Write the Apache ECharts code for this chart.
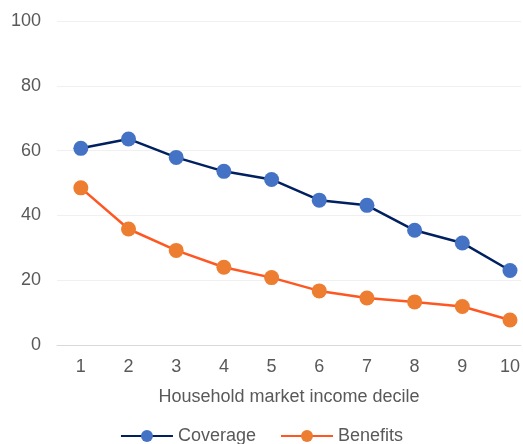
<!DOCTYPE html>
<html><head><meta charset="utf-8">
<script src="https://cdn.jsdelivr.net/npm/echarts@6/dist/echarts.min.js"></script>
<style>html,body{margin:0;padding:0;background:#fff}#c{width:523px;height:444px}</style>
</head><body><div id="c"></div>
<script>
const categories = [1, 2, 3, 4, 5, 6, 7, 8, 9, 10];
const coverage = [60.7, 63.6, 57.9, 53.6, 51.1, 44.7, 43.1, 35.4, 31.5, 23.0];
const benefits = [48.5, 35.8, 29.2, 24.0, 20.8, 16.7, 14.5, 13.3, 11.9, 7.7];
const yTicks = [0, 20, 40, 60, 80, 100];

const font = 'Liberation Sans, Arial, sans-serif';
const chart = echarts.init(document.getElementById('c'), null, {renderer: 'canvas'});
chart.setOption({
  animation: false,
  textStyle: {fontFamily: font},
  grid: {left: 57, top: 21, right: 0, bottom: 99, containLabel: false},
  xAxis: {
    type: 'value', min: 0.5, max: 10.23,
    axisLine: {lineStyle: {color: '#D9D9D9', width: 1}},
    axisTick: {show: false},
    splitLine: {show: false},
    axisLabel: {color: '#595959', fontSize: 18, margin: 13, fontFamily: font,
                customValues: categories},
    name: 'Household market income decile', nameLocation: 'middle', nameGap: 43,
    nameTextStyle: {color: '#595959', fontSize: 18, fontFamily: font}
  },
  yAxis: {
    type: 'value', min: yTicks[0], max: yTicks[yTicks.length-1], interval: 20,
    axisLine: {show: false}, axisTick: {show: false},
    axisLabel: {color: '#595959', fontSize: 18, margin: 16, fontFamily: font},
    splitLine: {lineStyle: {color: '#F0F0F0', width: 1}}
  },
  legend: {
    top: 427, left: 'center', itemWidth: 52, itemHeight: 15, itemGap: 24, padding: 0,
    textStyle: {color: '#595959', fontSize: 18, fontFamily: font},
    data: ['Coverage', 'Benefits']
  },
  series: [
    {name: 'Coverage', type: 'line', data: categories.map((c, i) => [c, coverage[i]]),
     symbol: 'circle', symbolSize: 15,
     lineStyle: {color: '#002060', width: 2.5}, itemStyle: {color: '#4472C4'}},
    {name: 'Benefits', type: 'line', data: categories.map((c, i) => [c, benefits[i]]),
     symbol: 'circle', symbolSize: 15,
     lineStyle: {color: '#FF5722', width: 2.5}, itemStyle: {color: '#ED7D31'}}
  ]
});
</script></body></html>
